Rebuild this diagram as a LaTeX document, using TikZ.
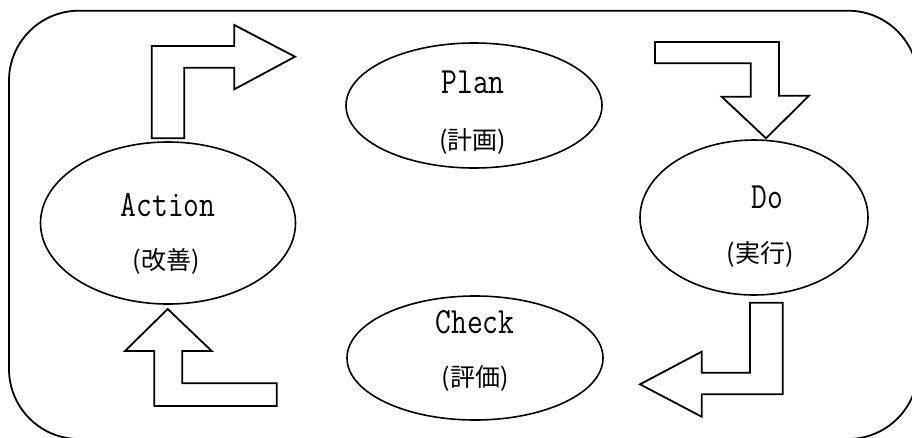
\documentclass[tikz,border=0pt]{standalone}
\usepackage{fontspec}
\usetikzlibrary{shapes.geometric}
\newfontfamily\latinfont[FakeStretch=0.83]{Latin Modern Mono}
\newfontfamily\cjkfont{Noto Sans CJK JP}
\begin{document}
\begin{tikzpicture}[x=1pt,y=-1pt,
  outline/.style={draw=black,line width=1.8pt,line join=miter},
  phase/.style={ellipse,draw=black,line width=1.6pt,inner sep=0pt},
  word/.style={anchor=base,inner sep=0pt,font=\latinfont\fontsize{37}{37}\selectfont},
  gloss/.style={anchor=base,inner sep=0pt,font=\cjkfont\fontsize{25}{25}\selectfont},
  blockarrow/.style={draw=black,line width=1.8pt,fill=white,line join=miter}]
\useasboundingbox (0,0) rectangle (912,437);
\clip (0,0) rectangle (912,437);

% outer frame
\draw[outline,rounded corners=70pt] (9,10.7) rectangle (918,439);

% the four phases
\node[phase,minimum width=256pt,minimum height=125pt] (plan)   at (474,105.5) {};
\node[phase,minimum width=228pt,minimum height=155pt] (do)     at (754,217.5) {};
\node[phase,minimum width=255pt,minimum height=162pt] (action) at (168,223) {};
\node[phase,minimum width=256pt,minimum height=124pt] (check)  at (475,358) {};

\node[word]  (planw)   at (473,93.3)  {Plan};
\node[gloss] (plang)   at (472.5,149) {(計画)};
\node[word]  (dow)     at (767.7,208) {Do};
\node[gloss] (dog)     at (760,262)   {(実行)};
\node[word]  (actionw) at (168,216)   {Action};
\node[gloss] (actiong) at (166,269)   {(改善)};
\node[word]  (checkw)  at (475,333)   {Check};
\node[gloss] (checkg)  at (475,386.5) {(評価)};

% bent block arrows between the phases
\draw[blockarrow] (151.7,138.3) -- (184.3,138.3) -- (184.3,67.7) -- (234.3,67.7)
  -- (234.3,89.3) -- (295,56.7) -- (234.3,25) -- (234.3,46) -- (151.7,46) -- cycle;
\draw[blockarrow] (655,42) -- (779,42) -- (779,95.7) -- (809,95.7) -- (766,138.3)
  -- (721.7,96.7) -- (750.7,96.7) -- (750.7,63.3) -- (655,63.3) -- cycle;
\draw[blockarrow] (750,302.7) -- (782.7,302.7) -- (782.7,394.3) -- (701.7,394.3)
  -- (701.7,416.7) -- (640,384.3) -- (701.7,351.7) -- (701.7,372.7) -- (750,372.7) -- cycle;
\draw[blockarrow] (167.7,309) -- (211.7,351) -- (182.3,351) -- (182.3,383.3)
  -- (276.7,383.3) -- (276.7,406) -- (154.3,406) -- (154.3,351) -- (125,351) -- cycle;
\end{tikzpicture}
\end{document}
